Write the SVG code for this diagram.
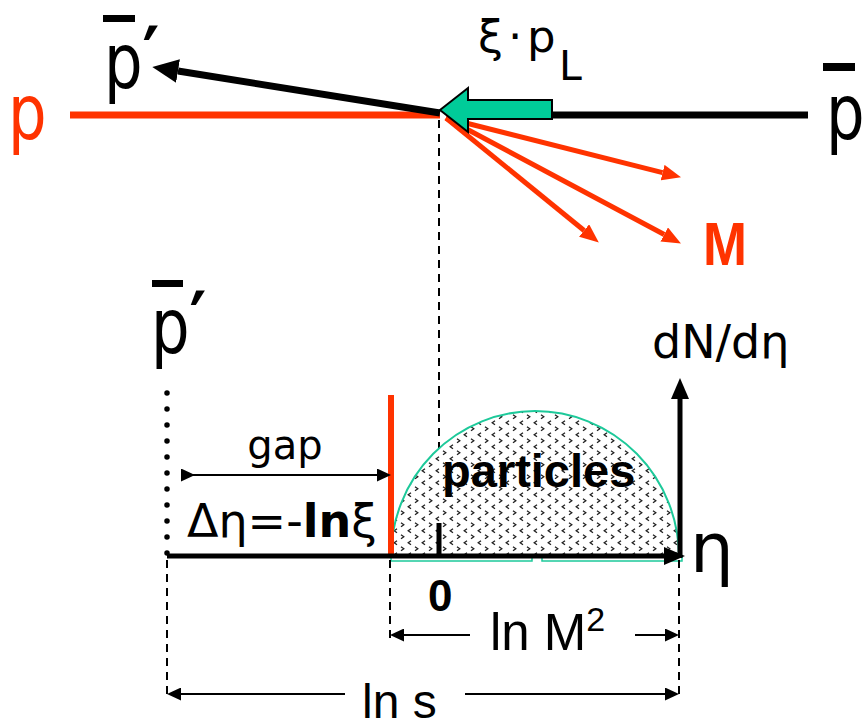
<svg xmlns="http://www.w3.org/2000/svg" width="867" height="728" viewBox="0 0 867 728">
<style>
.cp{font-family:"DejaVu Sans",sans-serif;font-size:76px;}
.red{fill:#FF3300;}
.blk{fill:#000;}
.cs{font-family:"DejaVu Sans",sans-serif;}
.ar{font-family:"Liberation Sans",Arial,sans-serif;}
.bar{fill:#000;}
.thick{stroke:#000;stroke-width:7;fill:none;}
.redl{stroke:#FF3300;stroke-width:5;fill:none;}
.thin{stroke:#000;stroke-width:2;fill:none;}
.dash{stroke:#000;stroke-width:2;stroke-dasharray:8 6;fill:none;}
</style>
<defs>
<marker id="hBig" markerUnits="userSpaceOnUse" markerWidth="26" markerHeight="24" refX="0" refY="12" orient="auto"><path d="M0,0 L26,12 L0,24 z" fill="#000"/></marker>
<marker id="hRed" markerUnits="userSpaceOnUse" markerWidth="19" markerHeight="16" refX="0" refY="8" orient="auto"><path d="M0,0 L19,8 L0,16 z" fill="#FF3300"/></marker>
<marker id="hAx" markerUnits="userSpaceOnUse" markerWidth="21" markerHeight="18" refX="0" refY="9" orient="auto"><path d="M0,0 L21,9 L0,18 z" fill="#000"/></marker>
<marker id="hThin" markerUnits="userSpaceOnUse" markerWidth="14" markerHeight="13" refX="0" refY="6.5" orient="auto"><path d="M0,0 L14,6.5 L0,13 z" fill="#000"/></marker>
<pattern id="chev" width="14" height="12" patternUnits="userSpaceOnUse">
<rect width="14" height="12" fill="#fff"/>
<path d="M5,0.8 L2.2,2.8 L5,4.8 M9,6.8 L11.8,8.8 L9,10.8" stroke="#222" stroke-width="1.3" fill="none"/>
</pattern>
</defs>

<g id="connectors">
<line x1="70" y1="115" x2="440" y2="115" stroke="#FF3300" stroke-width="7"/>
<line x1="552" y1="115" x2="808" y2="115" stroke="#000" stroke-width="7"/>
<line x1="440" y1="113" x2="178" y2="71" class="thick" marker-end="url(#hBig)"/>
<line x1="446" y1="118" x2="662.6" y2="172.6" class="redl" marker-end="url(#hRed)"/>
<line x1="446" y1="118" x2="584.1" y2="230.5" class="redl" marker-end="url(#hRed)"/>
<line x1="446" y1="118" x2="664.2" y2="234.5" class="redl" marker-end="url(#hRed)"/>
<line x1="439" y1="120" x2="439" y2="523" class="dash"/>
</g>

<g id="green-arrow">
<polygon points="440,110 468,88 468,100 552,100 552,119 468,119 468,132" fill="#00CC99" stroke="#000" stroke-width="2"/>
</g>

<g id="label-p">
<text class="cp red" transform="translate(8,139) scale(0.8,1)">p</text>
</g>
<g id="label-pbar-prime-top">
<rect class="bar" x="103" y="15" width="32" height="7"/>
<text class="cp blk" transform="translate(104,88) scale(0.8,1)">p<tspan font-size="80" font-weight="bold" dy="-4">′</tspan></text>
</g>
<g id="label-pbar-right">
<rect class="bar" x="823" y="63" width="32" height="8"/>
<text class="cp blk" transform="translate(826,139) scale(0.8,1)">p</text>
</g>
<g id="label-xi-pL">
<text class="cs" font-size="45" y="52"><tspan x="478">ξ</tspan><tspan x="508">·</tspan><tspan x="527">p</tspan></text>
<text class="cs" font-size="41" x="559" y="80">L</text>
</g>
<g id="label-M">
<text class="ar red" x="703" y="265" font-size="62" font-weight="bold" textLength="44" lengthAdjust="spacingAndGlyphs">M</text>
</g>

<g id="particles">
<path d="M391,557 A144,146 0 0 1 679,557 Z" fill="url(#chev)" stroke="#1DC99A" stroke-width="2"/>
<rect x="391" y="557" width="141" height="4" fill="#fff" stroke="#1DC99A" stroke-width="1.5"/>
<rect x="542" y="557" width="140" height="4" fill="#fff" stroke="#1DC99A" stroke-width="1.5"/>
<text class="ar" x="442" y="487" font-size="47" font-weight="bold">particles</text>
</g>

<g id="label-pbar-prime-bottom">
<rect class="bar" x="152" y="280" width="31" height="7"/>
<text class="cp blk" transform="translate(151,353) scale(0.8,1)">p<tspan font-size="80" font-weight="bold" dy="-4">′</tspan></text>
</g>

<g id="axes">
<line x1="167" y1="393" x2="167" y2="555" stroke="#000" stroke-width="5.5" stroke-linecap="round" stroke-dasharray="0 16"/>
<line x1="439" y1="523" x2="439" y2="556" stroke="#000" stroke-width="5"/>
<line x1="391" y1="395" x2="391" y2="557" stroke="#FF3300" stroke-width="6"/>
<line x1="167" y1="556" x2="664" y2="556" stroke="#000" stroke-width="5" marker-end="url(#hAx)"/>
<line x1="680" y1="558" x2="680" y2="399" stroke="#000" stroke-width="5" marker-end="url(#hAx)"/>
</g>

<g id="gap">
<line x1="181" y1="475" x2="377" y2="475" class="thin" marker-start="url(#hThin)" marker-end="url(#hThin)"/>
<text class="cs" x="285" y="459" font-size="40" text-anchor="middle">gap</text>
<text class="cs" x="187" y="537" font-size="46">Δη=-<tspan font-weight="bold">ln</tspan>ξ</text>
</g>

<g id="label-dNdeta">
<text class="cs" x="652" y="358" font-size="46">dN/dη</text>
</g>
<g id="label-eta">
<text class="cs" x="690" y="573" font-size="69">η</text>
</g>
<g id="label-zero">
<text class="ar" x="428" y="611" font-size="44" font-weight="bold">0</text>
</g>

<g id="dims">
<line x1="167" y1="560" x2="167" y2="700" class="dash"/>
<line x1="390" y1="560" x2="390" y2="640" class="dash"/>
<line x1="679" y1="560" x2="679" y2="700" class="dash"/>
<line x1="470" y1="635" x2="404" y2="635" class="thin" marker-end="url(#hThin)"/>
<line x1="635" y1="635" x2="665" y2="635" class="thin" marker-end="url(#hThin)"/>
<text class="ar" x="490" y="650" font-size="51">ln M<tspan font-size="34" dy="-19">2</tspan></text>
<line x1="345" y1="694" x2="181" y2="694" class="thin" marker-end="url(#hThin)"/>
<line x1="465" y1="694" x2="665" y2="694" class="thin" marker-end="url(#hThin)"/>
<text class="ar" x="362" y="718" font-size="48">ln s</text>
</g>
</svg>
